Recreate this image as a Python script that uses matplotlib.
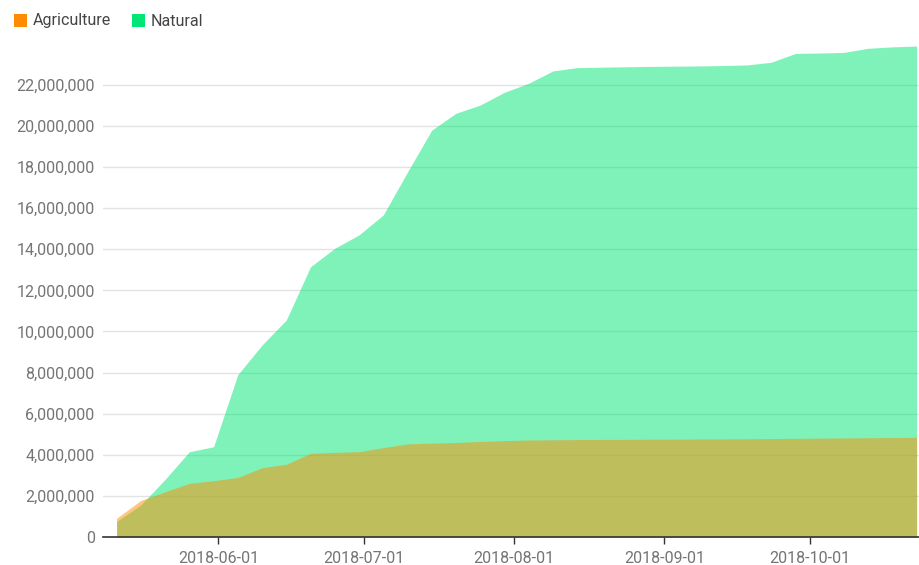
import matplotlib
matplotlib.use("Agg")
import matplotlib.pyplot as plt
import matplotlib.dates as mdates
import numpy as np
import pandas as pd
from matplotlib.patches import Rectangle
from matplotlib.ticker import FuncFormatter

plt.rcParams['font.family'] = ['Roboto', 'DejaVu Sans']

dates = pd.to_datetime([
    "2018-05-11", "2018-05-16", "2018-05-21", "2018-05-26", "2018-05-31",
    "2018-06-05", "2018-06-10", "2018-06-15", "2018-06-20", "2018-06-25",
    "2018-06-30", "2018-07-05", "2018-07-10", "2018-07-15", "2018-07-20",
    "2018-07-25", "2018-07-30", "2018-08-04", "2018-08-09", "2018-08-14",
    "2018-08-19", "2018-08-24", "2018-08-29", "2018-09-03", "2018-09-08",
    "2018-09-13", "2018-09-18", "2018-09-23", "2018-09-28", "2018-10-03",
    "2018-10-08", "2018-10-13", "2018-10-18", "2018-10-23",
])

agriculture = [
    0.91e6, 1.78e6, 2.20e6, 2.61e6, 2.74e6,
    2.90e6, 3.37e6, 3.54e6, 4.07e6, 4.12e6,
    4.15e6, 4.35e6, 4.53e6, 4.57e6, 4.60e6,
    4.65e6, 4.69e6, 4.72e6, 4.73e6, 4.74e6,
    4.75e6, 4.75e6, 4.76e6, 4.76e6, 4.77e6,
    4.77e6, 4.78e6, 4.79e6, 4.80e6, 4.81e6,
    4.82e6, 4.83e6, 4.84e6, 4.85e6,
]

natural = [
    0.75e6, 1.56e6, 2.80e6, 4.15e6, 4.39e6,
    7.90e6, 9.34e6, 10.56e6, 13.15e6, 14.05e6,
    14.70e6, 15.67e6, 17.76e6, 19.80e6, 20.62e6,
    21.02e6, 21.64e6, 22.08e6, 22.68e6, 22.84e6,
    22.86e6, 22.88e6, 22.90e6, 22.91e6, 22.92e6,
    22.94e6, 22.97e6, 23.10e6, 23.53e6, 23.55e6,
    23.58e6, 23.78e6, 23.85e6, 23.89e6,
]

series_names = ["Agriculture", "Natural"]
series_colors = ["#FF8C00", "#00E676"]
y_ticks = list(range(0, 22000001, 2000000))
x_tick_dates = pd.to_datetime(["2018-06-01", "2018-07-01", "2018-08-01", "2018-09-01", "2018-10-01"])

W, H = 920, 565
fig = plt.figure(figsize=(W / 100, H / 100), dpi=100)
left_px, right_px, bottom_px, top_px = 103, 920, 537, 33.5
ax = fig.add_axes([left_px / W, 1 - bottom_px / H, (right_px - left_px) / W, (bottom_px - top_px) / H])

x = mdates.date2num(dates)
ax.fill_between(x, 0, natural, color=series_colors[1], alpha=0.5, linewidth=0, zorder=2)
ax.fill_between(x, 0, agriculture, color=series_colors[0], alpha=0.5, linewidth=0, zorder=3)

jun1 = mdates.date2num(pd.Timestamp("2018-06-01"))
ax.set_xlim(jun1 - 23.8, jun1 + 144.7)
ax.set_ylim(0, 24.5e6)

ax.set_yticks(y_ticks)
ax.yaxis.set_major_formatter(FuncFormatter(lambda v, p: f"{int(v):,}"))
ax.set_xticks(mdates.date2num(x_tick_dates))
ax.set_xticklabels([d.strftime("%Y-%m-%d") for d in x_tick_dates])

for yv in y_ticks[1:]:
    ax.axhline(yv, color="#e3e3e3", linewidth=1, zorder=1)

for s in ["top", "right", "left"]:
    ax.spines[s].set_visible(False)
ax.spines["bottom"].set_color("#333333")
ax.spines["bottom"].set_linewidth(1.2)
ax.spines["bottom"].set_zorder(5)

ax.tick_params(axis="y", length=0, pad=6, labelsize=11.5, labelcolor="#757575")
ax.tick_params(axis="x", length=5, width=1, color="#333333", pad=5, labelsize=11.5, labelcolor="#757575")

# legend
for i, (name, col) in enumerate(zip(series_names, series_colors)):
    x0 = [14, 132][i]
    fig.patches.append(Rectangle((x0 / W, 1 - 27 / H), 13 / W, 13 / H, transform=fig.transFigure,
                                 facecolor=col, edgecolor="none"))
    fig.text((x0 + 19) / W, 1 - 21 / H, name, fontsize=11.5, color="#444444", va="center", ha="left")

fig.savefig("out.png", dpi=100)
